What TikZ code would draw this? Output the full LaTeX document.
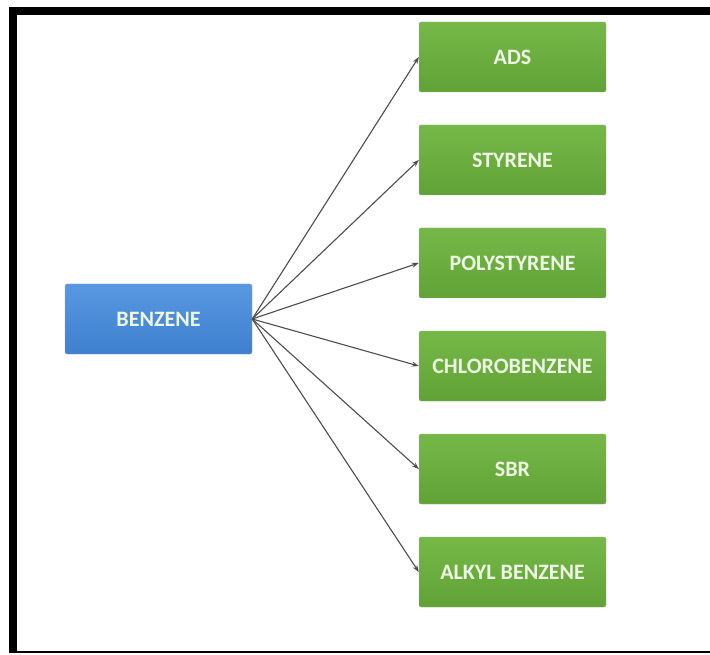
\documentclass[tikz,border=0pt]{standalone}
\usepackage{fontspec}
\setmainfont{Carlito}
\usepackage{tikz}
\usetikzlibrary{arrows.meta,positioning}
\definecolor{cbluetop}{RGB}{88,152,226}
\definecolor{cbluebot}{RGB}{62,128,206}
\definecolor{cgreentop}{RGB}{118,184,72}
\definecolor{cgreenbot}{RGB}{96,162,54}
\definecolor{ctxt}{RGB}{238,248,228}
\tikzset{
  srcbox/.style={rectangle,rounded corners=2pt,top color=cbluetop,
    bottom color=cbluebot,draw=cbluebot!80!black!60,thin,
    minimum width=187pt,minimum height=70pt,inner sep=0pt,
    font=\bfseries\fontsize{22}{25}\selectfont,text=ctxt},
  prodbox/.style={rectangle,rounded corners=2pt,top color=cgreentop,
    bottom color=cgreenbot,draw=cgreenbot!80!black!60,thin,
    minimum width=187pt,minimum height=70pt,inner sep=0pt,
    font=\bfseries\fontsize{22}{25}\selectfont,text=ctxt},
  arr/.style={-{Stealth[length=7pt,width=5pt]},line width=1.1pt,draw=black!70}
}
\begin{document}
\begin{tikzpicture}[x=1pt,y=-1pt]
  \useasboundingbox (0,0) rectangle (710,655);
  % frame
  \fill[black] (9,7) rectangle (710,15);
  \fill[black] (9,7) rectangle (17,653);
  \fill[black] (9,651) rectangle (710,653);
  % source
  \node[srcbox] (benz) at (158.5,319) {BENZENE};
  % products
  \foreach \n/\t [count=\i] in {ads/ADS,sty/STYRENE,poly/POLYSTYRENE,
      chlor/CHLOROBENZENE,sbr/SBR,alkyl/ALKYL BENZENE}{
    \node[prodbox] (\n) at (512.5,{57+103*(\i-1)}) {\t};
    \draw[arr] (benz.east) -- (\n.west);
  }
\end{tikzpicture}
\end{document}
